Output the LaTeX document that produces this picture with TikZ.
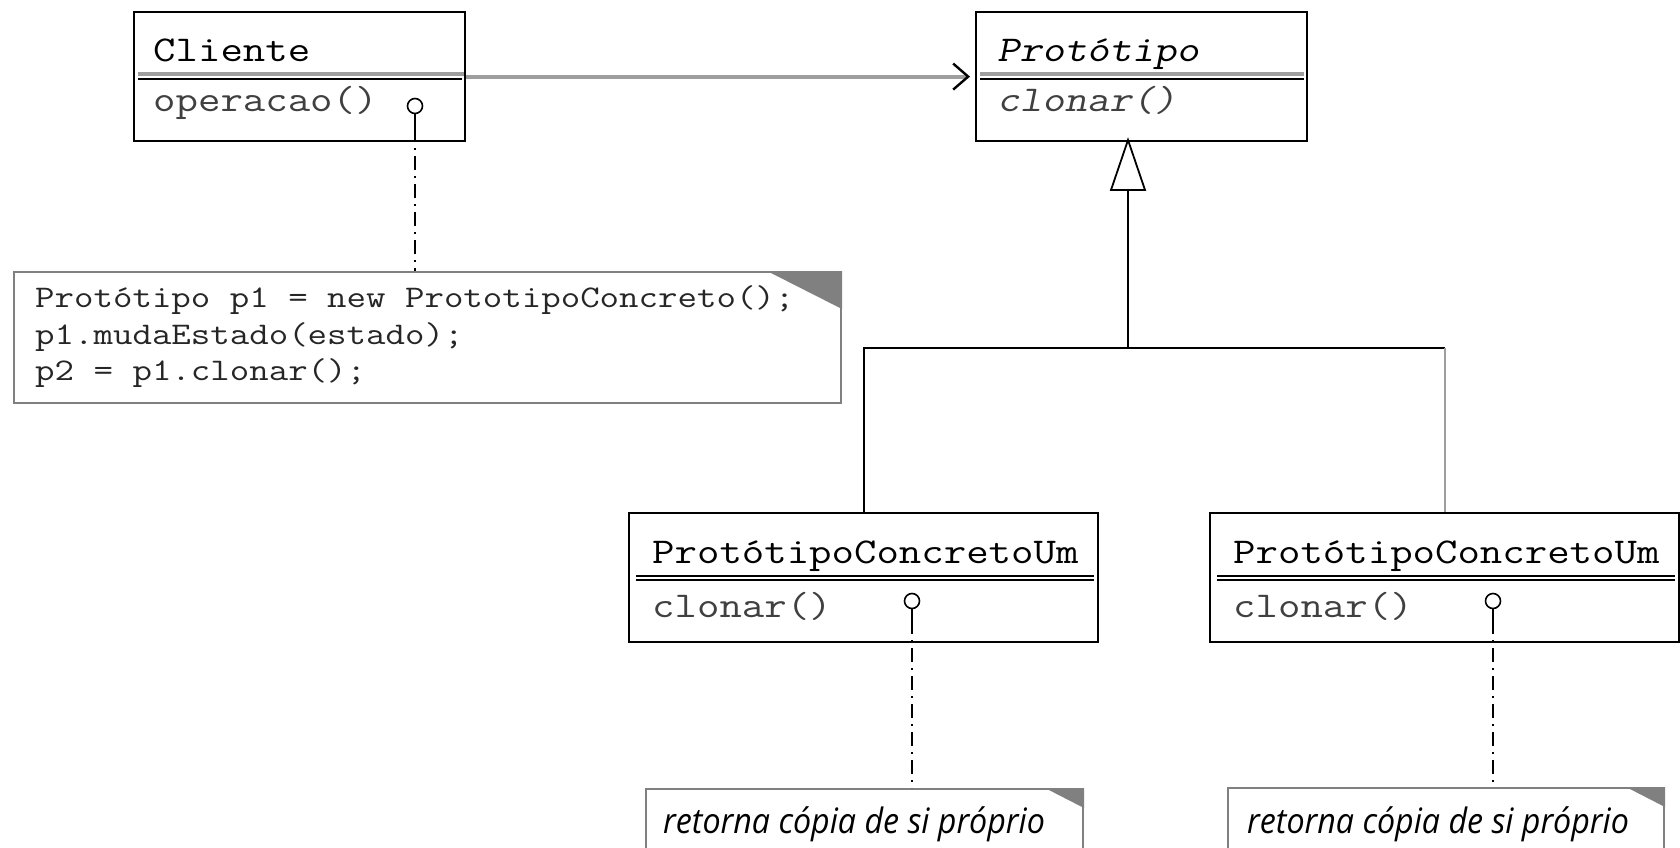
\documentclass[tikz,border=0pt]{standalone}
\usepackage{fontspec}
\newfontfamily\umlfont{Latin Modern Mono}[FakeStretch=1.2]
\newfontfamily\umlslant{Latin Modern Mono}[FakeStretch=1.2, FakeSlant=0.2]
\newfontfamily\codefont{Latin Modern Mono}[FakeStretch=1.2]
\newfontfamily\notefont{Open Sans}[FakeStretch=0.92]
\usetikzlibrary{arrows.meta, positioning, calc}
\definecolor{notegray}{gray}{0.5}
\definecolor{linegray}{gray}{0.62}
\tikzset{
    class_box/.style={rectangle, draw, line width=2.2pt, minimum width=#1, minimum height=129pt, anchor=north west, inner sep=0pt},
    class_name/.style={anchor=base west, inner sep=0pt, font=\umlfont\fontsize{36.3}{42}\selectfont},
    abstract_name/.style={anchor=base west, inner sep=0pt, font=\umlslant\fontsize{36.3}{42}\selectfont},
    class_op/.style={anchor=base west, inner sep=0pt, text=black!75, font=\umlfont\fontsize{36.3}{42}\selectfont},
    sep_gray/.style={linegray, line width=3.5pt},
    sep_black/.style={black, line width=2pt},
    lollipop/.style={circle, draw, line width=1.6pt, minimum size=15pt, inner sep=0pt, fill=white},
    stem/.style={line width=2pt},
    note_link/.style={line width=2pt, dash pattern=on 14pt off 6pt on 2pt off 6pt},
    note_box/.style={rectangle, draw=notegray, line width=2pt, fill=white, anchor=north west, inner sep=0pt},
    code_text/.style={anchor=base west, inner sep=0pt, text=black!85, font=\codefont\fontsize{31.5}{36}\selectfont},
    note_text/.style={anchor=base west, inner sep=0pt, font=\notefont\itshape\fontsize{35}{40}\selectfont},
    tree_line/.style={line width=2pt},
    assoc/.style={draw=linegray, line width=4pt, -{Straight Barb[length=15pt, width=26pt, line width=2.4pt, color=black]}, shorten >=5pt}
}
\begin{document}
\begin{tikzpicture}[x=1pt, y=-1pt]
    \useasboundingbox (0,0) rectangle (1680,848);

    % classes
    \node (cliente) [class_box=331] at (133,11) {};
    \node (proto) [class_box=331] at (975,11) {};
    \node (concl) [class_box=469] at (628,512) {};
    \node (concr) [class_box=469] at (1209,512) {};

    \draw [sep_gray] (138,74) -- (464,74);
    \draw [sep_black] (138,79.5) -- (462,79.5);
    \draw [sep_gray] (980,74) -- (1304,74);
    \draw [sep_black] (980,79.5) -- (1304,79.5);
    \draw [sep_black] (636,575.5) -- (1094,575.5);
    \draw [sep_black] (636,579.5) -- (1094,579.5);
    \draw [sep_black] (1217,575.5) -- (1675,575.5);
    \draw [sep_black] (1217,579.5) -- (1675,579.5);

    \node (cliente_name) [class_name] at (153,62) {Cliente};
    \node (cliente_op) [class_op] at (153,112) {operacao()};
    \node (proto_name) [abstract_name] at (997,62) {Protótipo};
    \node (proto_op) [abstract_name, text=black!75] at (997,112) {clonar()};
    \node (concl_name) [class_name] at (652,563) {ProtótipoConcretoUm};
    \node (concl_op) [class_op] at (652,617) {clonar()};
    \node (concr_name) [class_name] at (1233,563) {ProtótipoConcretoUm};
    \node (concr_op) [class_op] at (1233,617) {clonar()};

    % association
    \draw [assoc] (cliente.east) -- (proto.west);

    % generalization
    \coordinate (gen_apex) at (1128,140);
    \coordinate (gen_base) at (1128,190);
    \coordinate (branch) at (1128,348);
    \draw [line width=1.8pt, fill=white] (gen_apex) -- ++(-17,50) -- ++(34,0) -- cycle;
    \draw [tree_line] (gen_base) -- (branch);
    \draw [tree_line] (branch) -| (concl.north);
    \draw [tree_line] (branch) -- (concr.north |- branch);
    \draw [tree_line, linegray] (concr.north |- branch) -- (concr.north);

    % notes
    \node (note_code) [note_box, minimum width=827pt, minimum height=131pt] at (13,271) {};
    \fill [notegray] ($(note_code.north east)+(-75,0)$) -- (note_code.north east) -- ($(note_code.north east)+(0,38)$) -- cycle;
    \node (code_a) [code_text] at (35,307) {Protótipo p1 = new PrototipoConcreto();};
    \node (code_b) [code_text] at (35,344) {p1.mudaEstado(estado);};
    \node (code_c) [code_text] at (35,380) {p2 = p1.clonar();};

    \node (note_l) [note_box, minimum width=437pt, minimum height=100pt] at (645,788) {};
    \fill [notegray] ($(note_l.north east)+(-39,0)$) -- (note_l.north east) -- ($(note_l.north east)+(0,20)$) -- cycle;
    \node (note_l_text) [note_text] at (663,833) {retorna cópia de si próprio};

    \node (note_r) [note_box, minimum width=436pt, minimum height=100pt] at (1227,787) {};
    \fill [notegray] ($(note_r.north east)+(-39,0)$) -- (note_r.north east) -- ($(note_r.north east)+(0,20)$) -- cycle;
    \node (note_r_text) [note_text] at (1247,833) {retorna cópia de si próprio};

    % lollipops and note links
    \node (cliente_pop) [lollipop] at (415,106) {};
    \coordinate (cliente_stem) at (415,128);
    \draw [stem] (cliente_pop) -- (cliente_stem);
    \draw [note_link] (cliente_stem) -- (cliente_stem |- note_code.north);

    \node (concl_pop) [lollipop] at (912,601) {};
    \coordinate (concl_stem) at (912,620);
    \draw [stem] (concl_pop) -- (concl_stem);
    \draw [note_link] (concl_stem) -- (concl_stem |- note_l.north);

    \node (concr_pop) [lollipop] at (1493,601) {};
    \coordinate (concr_stem) at (1493,620);
    \draw [stem] (concr_pop) -- (concr_stem);
    \draw [note_link] (concr_stem) -- (concr_stem |- note_r.north);
\end{tikzpicture}
\end{document}
